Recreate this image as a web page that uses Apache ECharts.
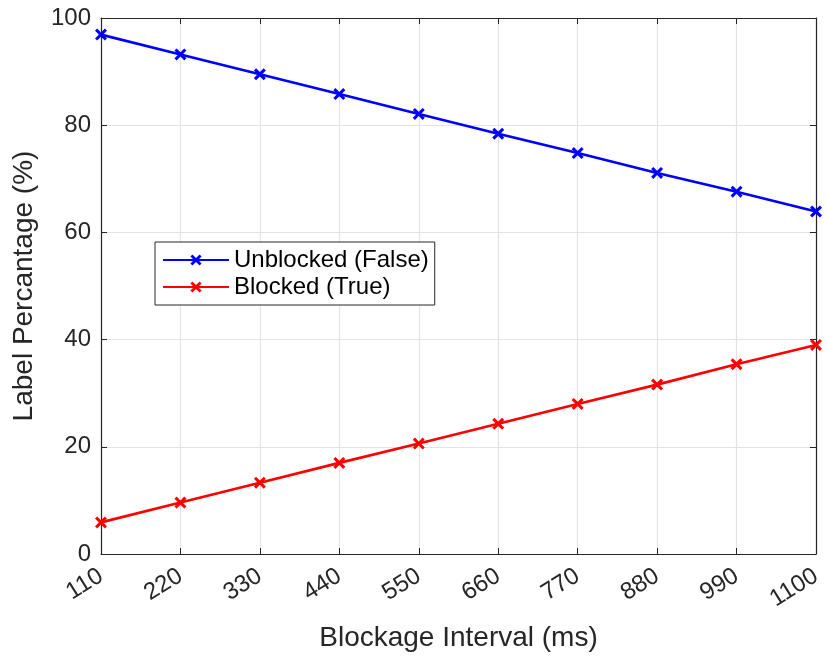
<!DOCTYPE html>
<html>
<head>
<meta charset="utf-8">
<script src="https://cdn.jsdelivr.net/npm/echarts@6/dist/echarts.min.js"></script>
<style>
  html, body { margin: 0; padding: 0; background: #fff; }
  #chart { width: 827px; height: 660px; }
</style>
</head>
<body>
<div id="chart"></div>
<script>
// Blockage interval (ms) on the x axis
const intervals = [110, 220, 330, 440, 550, 660, 770, 880, 990, 1100];
// Share of labels per class (%)
const unblocked = [96.9, 93.2, 89.5, 85.8, 82.1, 78.4, 74.8, 71.1, 67.6, 63.9];
const blocked = [5.9, 9.6, 13.3, 17.0, 20.6, 24.3, 28.0, 31.6, 35.4, 39.0];
const yTicks = [0, 20, 40, 60, 80, 100];

const ink = '#262626';
const gridColor = '#e3e3e3';
const font = 'Liberation Sans, Arial, Helvetica, sans-serif';
// filled "x" cross marker
const cross = 'path://M0,1.8 L1.8,0 L5,3.2 L8.2,0 L10,1.8 L6.8,5 L10,8.2 L8.2,10 L5,6.8 L1.8,10 L0,8.2 L3.2,5 Z';

const pairs = arr => intervals.map((x, i) => [x, arr[i]]);

const chart = echarts.init(document.getElementById('chart'), null, { renderer: 'canvas' });
chart.setOption({
  animation: false,
  backgroundColor: '#fff',
  grid: { left: 101, right: 11, top: 18, bottom: 106, containLabel: false },
  legend: {
    left: 155, top: 242,
    orient: 'vertical',
    backgroundColor: '#fff',
    borderColor: ink, borderWidth: 1, borderRadius: 0,
    padding: [6, 6, 6, 7],
    itemWidth: 66, itemHeight: 14,
    itemGap: 3,
    textStyle: { fontFamily: font, fontSize: 24, color: '#000' },
    data: ['Unblocked (False)', 'Blocked (True)']
  },
  xAxis: [{
    type: 'value', min: 110, max: 1100, interval: 110,
    name: 'Blockage Interval (ms)', nameLocation: 'middle', nameGap: 70,
    nameTextStyle: { fontFamily: font, fontSize: 28, color: ink },
    axisLine: { show: true, onZero: false, lineStyle: { color: ink, width: 1.2 } },
    axisTick: { show: true, inside: true, length: 6, lineStyle: { color: ink } },
    axisLabel: {
      rotate: 32, fontFamily: font, fontSize: 24, color: ink, margin: 20,
      formatter: v => String(v)
    },
    splitLine: { show: true, lineStyle: { color: gridColor, width: 1.2 } }
  }, {
    type: 'value', min: 110, max: 1100, interval: 110, position: 'top',
    axisLine: { show: true, onZero: false, lineStyle: { color: ink, width: 1.2 } },
    axisTick: { show: true, inside: true, length: 6, lineStyle: { color: ink } },
    axisLabel: { show: false }, splitLine: { show: false }
  }],
  yAxis: [{
    type: 'value', min: 0, max: 100, interval: 20,
    name: 'Label Percantage (%)', nameLocation: 'middle', nameGap: 63,
    nameTextStyle: { fontFamily: font, fontSize: 28, color: ink },
    axisLine: { show: true, onZero: false, lineStyle: { color: ink, width: 1.2 } },
    axisTick: { show: true, inside: true, length: 6, lineStyle: { color: ink } },
    axisLabel: {
      fontFamily: font, fontSize: 24, color: ink, margin: 10,
      formatter: v => yTicks.includes(v) ? String(v) : ''
    },
    splitLine: { show: true, lineStyle: { color: gridColor, width: 1.2 } }
  }, {
    type: 'value', min: 0, max: 100, interval: 20, position: 'right',
    axisLine: { show: true, onZero: false, lineStyle: { color: ink, width: 1.2 } },
    axisTick: { show: true, inside: true, length: 6, lineStyle: { color: ink } },
    axisLabel: { show: false }, splitLine: { show: false }
  }],
  series: [{
    name: 'Unblocked (False)', type: 'line', data: pairs(unblocked),
    symbol: cross, symbolSize: 12, showAllSymbol: true,
    lineStyle: { color: '#0000ff', width: 2.6 },
    itemStyle: { color: '#0000ff' }
  }, {
    name: 'Blocked (True)', type: 'line', data: pairs(blocked),
    symbol: cross, symbolSize: 12, showAllSymbol: true,
    lineStyle: { color: '#ff0000', width: 2.6 },
    itemStyle: { color: '#ff0000' }
  }]
});
</script>
</body>
</html>
